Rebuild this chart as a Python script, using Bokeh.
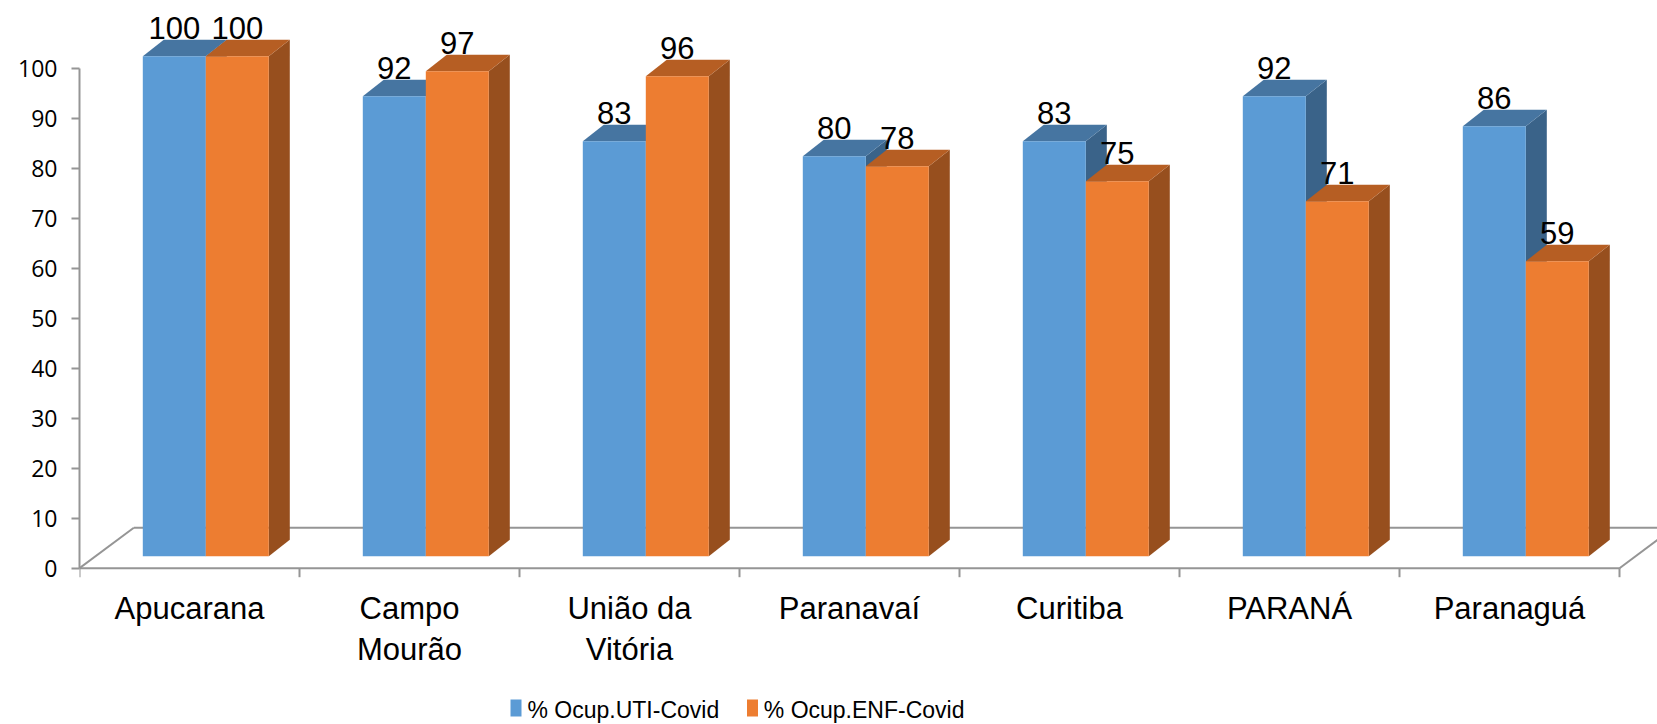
from bokeh.plotting import figure
from bokeh.models import Range1d, FixedTicker, ColumnDataSource
from bokeh.core.properties import value
from bokeh.embed import file_html
from bokeh.resources import INLINE

# ---------------- data ----------------
categories = ["Apucarana", "Campo\nMourão", "União da\nVitória", "Paranavaí",
              "Curitiba", "PARANÁ", "Paranaguá"]
uti = [100, 92, 83, 80, 83, 92, 86]
enf = [100, 97, 96, 78, 75, 71, 59]
series_names = ["% Ocup.UTI-Covid", "% Ocup.ENF-Covid"]
y_ticks = [0, 10, 20, 30, 40, 50, 60, 70, 80, 90, 100]

# ---------------- layout / style ----------------
W, H = 1657, 724
LEFT = 79            # frame left (px) == value-axis position
ZERO_Y = 567.7       # px of value 0 on the front floor edge
PX_CAT = 220.0       # px per category
PX_VAL = 5.0         # px per value unit

def fx(px):
    return (px - LEFT) / PX_CAT

def fy(py):
    return (ZERO_Y - py) / PX_VAL

front_colors = ["#5B9BD5", "#ED7D31"]
top_colors = ["#4675A1", "#B65E23"]
side_colors = ["#3A6389", "#974F1E"]
grid_col = "#959595"
FONT = "Liberation Sans"
BIG = 31          # label font px
SMALL = 23        # legend font px
SHIFT = 0.29      # baseline correction (fraction of font size, px)

BAR_W = 63 / PX_CAT
BAR_START = 63.3 / PX_CAT
OFF_Y = 12 / PX_VAL            # front plane lift
DEP_X, DEP_Y = 21 / PX_CAT, 16.4 / PX_VAL   # bar depth
FLOOR_X, FLOOR_Y = 54.3 / PX_CAT, 40.4 / PX_VAL

p = figure(width=W, height=H, output_backend="svg", toolbar_location=None,
           x_range=Range1d(fx(LEFT), fx(W)), y_range=Range1d(fy(H), fy(0)),
           x_axis_location=None, min_border_left=LEFT, min_border_right=0,
           min_border_top=0, min_border_bottom=0, outline_line_color=None)
p.xgrid.visible = False
p.ygrid.visible = False
p.background_fill_color = "white"
p.border_fill_color = "white"

ya = p.yaxis[0]
ya.ticker = FixedTicker(ticks=y_ticks, minor_ticks=[])
ya.bounds = (0, 100)
ya.axis_line_color = grid_col
ya.axis_line_width = 2
ya.major_tick_line_color = grid_col
ya.major_tick_line_width = 2
ya.major_tick_out = 8
ya.major_tick_in = 0
ya.minor_tick_line_color = None
ya.major_label_text_font = "Open Sans"
ya.major_label_text_font_size = "23px"
ya.major_label_text_color = "black"
ya.major_label_standoff = 14

n = len(categories)

# floor (oblique 3D)
fl_x0 = [0, 0, n, FLOOR_X]
fl_y0 = [0, 0, 0, FLOOR_Y]
fl_x1 = [n, FLOOR_X, n + FLOOR_X, n + FLOOR_X]
fl_y1 = [0, FLOOR_Y, FLOOR_Y, FLOOR_Y]
p.segment(fl_x0, fl_y0, fl_x1, fl_y1, line_color=grid_col, line_width=2)

# category ticks
tick_x = list(range(n + 1))
p.segment(tick_x, [0] * (n + 1), tick_x, [fy(576.7)] * (n + 1),
          line_color=grid_col, line_width=2)

# bars
series = [uti, enf]
lbl_x, lbl_y, lbl_t = [], [], []
for i in range(n):
    for s in range(2):
        v = series[s][i]
        x0 = i + BAR_START + s * BAR_W
        x1 = x0 + BAR_W
        yb = OFF_Y
        yt = OFF_Y + v
        front = ColumnDataSource(dict(xs=[[x0, x1, x1, x0]], ys=[[yb, yb, yt, yt]]))
        side = ColumnDataSource(dict(xs=[[x1, x1 + DEP_X, x1 + DEP_X, x1]],
                                     ys=[[yb, yb + DEP_Y, yt + DEP_Y, yt]]))
        top = ColumnDataSource(dict(xs=[[x0, x1, x1 + DEP_X, x0 + DEP_X]],
                                    ys=[[yt, yt, yt + DEP_Y, yt + DEP_Y]]))
        p.patches("xs", "ys", source=side, fill_color=side_colors[s], line_color=None)
        p.patches("xs", "ys", source=top, fill_color=top_colors[s], line_color=None)
        p.patches("xs", "ys", source=front, fill_color=front_colors[s], line_color=None)
        lbl_x.append((x0 + x1) / 2)
        lbl_y.append(yt + DEP_Y + 0.5 + SHIFT * BIG / PX_VAL)
        lbl_t.append(str(v))

p.text(lbl_x, lbl_y, text=lbl_t, text_align="center", text_baseline="alphabetic",
       text_font=value(FONT), text_font_size=f"{BIG}px", text_color="black")

# category labels
l1_x, l1_t, l2_x, l2_t = [], [], [], []
for i, c in enumerate(categories):
    parts = c.split("\n")
    l1_x.append(i + 0.5)
    l1_t.append(parts[0])
    if len(parts) > 1:
        l2_x.append(i + 0.5)
        l2_t.append(parts[1])
p.text(l1_x, [fy(616.7 - SHIFT * BIG)] * len(l1_x), text=l1_t, text_align="center",
       text_baseline="alphabetic", text_font=value(FONT),
       text_font_size=f"{BIG}px", text_color="black")
p.text(l2_x, [fy(658.3 - SHIFT * BIG)] * len(l2_x), text=l2_t, text_align="center",
       text_baseline="alphabetic", text_font=value(FONT),
       text_font_size=f"{BIG}px", text_color="black")

# legend
sq_x = [fx(515.5), fx(752)]
sq_y = [fy(707.5)] * 2
p.rect(sq_x, sq_y, width=11, height=17, width_units="screen", height_units="screen",
       fill_color=front_colors, line_color=None)
p.text([fx(527), fx(763.3)], [fy(716 - SHIFT * SMALL)] * 2, text=series_names,
       text_align="left", text_baseline="alphabetic",
       text_font=value(FONT), text_font_size=f"{SMALL}px", text_color="black")

open("out.html", "w").write(file_html(p, INLINE))
